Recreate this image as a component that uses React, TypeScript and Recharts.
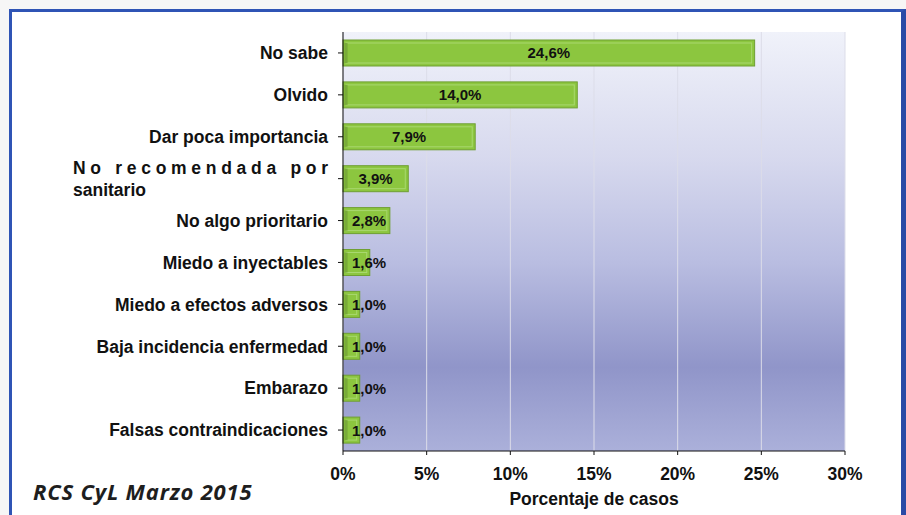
import React from 'react';
import { BarChart, Bar, XAxis, YAxis, CartesianGrid, LabelList } from 'recharts';

const categories = [
  'No sabe',
  'Olvido',
  'Dar poca importancia',
  'No recomendada por sanitario',
  'No algo prioritario',
  'Miedo a inyectables',
  'Miedo a efectos adversos',
  'Baja incidencia enfermedad',
  'Embarazo',
  'Falsas contraindicaciones',
];
const percentages = [24.6, 14.0, 7.9, 3.9, 2.8, 1.6, 1.0, 1.0, 1.0, 1.0];
const xTicks = [0, 5, 10, 15, 20, 25, 30];

const chartData = categories.map((name, i) => ({ name, value: percentages[i] }));

const FONT = '"Liberation Sans", Arial, sans-serif';

const fmtPct = (v: number) => v.toFixed(1).replace('.', ',') + '%';

// wrapped, justified label like the original Excel export
const CategoryTick = (props: any) => {
  const { x, y, payload } = props;
  const right = x;
  if (payload.value === 'No recomendada por sanitario') {
    return (
      <g>
        <text x={right - 255} y={y - 5} textLength={255} lengthAdjust="spacing"
          fontFamily={FONT} fontWeight="bold" fontSize={17.5} fill="#111">No recomendada por</text>
        <text x={right - 255} y={y + 17} fontFamily={FONT} fontWeight="bold" fontSize={17.5} fill="#111">sanitario</text>
      </g>
    );
  }
  return (
    <text x={right} y={y} dy="0.36em" textAnchor="end" fontFamily={FONT} fontWeight="bold" fontSize={17.5} fill="#111">
      {payload.value}
    </text>
  );
};

const PctTick = (props: any) => {
  const { x, y, payload } = props;
  return (
    <text x={x} y={y} dy={23} textAnchor="middle" fontFamily={FONT} fontWeight="bold" fontSize={17.5} fill="#111">
      {payload.value}%
    </text>
  );
};

const GreenBar = (props: any) => {
  const { x, y, width, height } = props;
  if (!width || width <= 0) return null;
  return (
    <g>
      <rect x={x} y={y} width={width} height={height} fill="#8cc63f" stroke="#6f9f33" strokeWidth={1} />
      <rect x={x + 3} y={y + 3} width={Math.max(width - 6, 0)} height={height - 6} fill="none" stroke="#a9d870" strokeWidth={1} />
      <rect x={x + 1.5} y={y + 3} width={3} height={height - 6} fill="#6a9a2e" opacity={0.7} />
    </g>
  );
};

const BarValue = (props: any) => {
  const { x, y, width, height, value } = props;
  const cx = Math.max(x + width / 2, x + 26);
  return (
    <text x={cx} y={y + height / 2} dy="0.36em" textAnchor="middle" fontFamily={FONT} fontWeight="bold" fontSize={15} fill="#111">
      {fmtPct(value)}
    </text>
  );
};

export default function App() {
  return (
    <div style={{ position: 'absolute', left: 0, top: 0, width: 906, height: 515, background: '#f6f6f6', overflow: 'hidden' }}>
      <div style={{ position: 'absolute', left: 9, top: 9, width: 889, height: 520, background: '#fff', borderTop: '3px solid #2f54b5', borderLeft: '3px solid #2f54b5', borderRight: '5px solid #2a4aa6' }} />
      <svg width={0} height={0} style={{ position: 'absolute' }}>
        <defs>
          <linearGradient id="plotBg" x1="0" y1="0" x2="0" y2="1">
            <stop offset="0%" stopColor="#f0f2fa" />
            <stop offset="30%" stopColor="#d7d9ee" />
            <stop offset="55%" stopColor="#b9bde1" />
            <stop offset="80%" stopColor="#9095c9" />
            <stop offset="100%" stopColor="#abb0da" />
          </linearGradient>
        </defs>
      </svg>
      <div style={{ position: 'absolute', left: 0, top: 0 }}>
        <BarChart
          width={906}
          height={515}
          data={chartData}
          layout="vertical"
          margin={{ top: 32, right: 61, bottom: 0, left: 0 }}
          barSize={26}
        >
          <CartesianGrid horizontal={false} vertical stroke="#dcdde9" fill="url(#plotBg)" fillOpacity={1} />
          <XAxis
            type="number"
            domain={[0, 30]}
            ticks={xTicks}
            interval={0}
            height={64}
            axisLine={{ stroke: '#111' }}
            tickLine={{ stroke: '#111' }}
            tickSize={4}
            tick={<PctTick />}
            label={{ value: 'Porcentaje de casos', position: 'insideBottom', offset: 10, fontFamily: FONT, fontWeight: 'bold', fontSize: 17.5, fill: '#111' }}
          />
          <YAxis
            type="category"
            dataKey="name"
            width={343}
            interval={0}
            axisLine={{ stroke: '#111' }}
            tickLine={{ stroke: '#111' }}
            tickSize={5}
            tickMargin={10}
            tick={<CategoryTick />}
          />
          <Bar dataKey="value" shape={<GreenBar />} isAnimationActive={false}>
            <LabelList dataKey="value" content={<BarValue />} />
          </Bar>
        </BarChart>
      </div>
      <svg width={906} height={515} style={{ position: 'absolute', left: 0, top: 0, pointerEvents: 'none' }}>
        <text x={33} y={500} fontFamily='"Open Sans", sans-serif' fontWeight="bold" fontStyle="italic" fontSize={22} letterSpacing={0.8} fill="#1e1e1e">
          RCS CyL Marzo 2015
        </text>
      </svg>
    </div>
  );
}
